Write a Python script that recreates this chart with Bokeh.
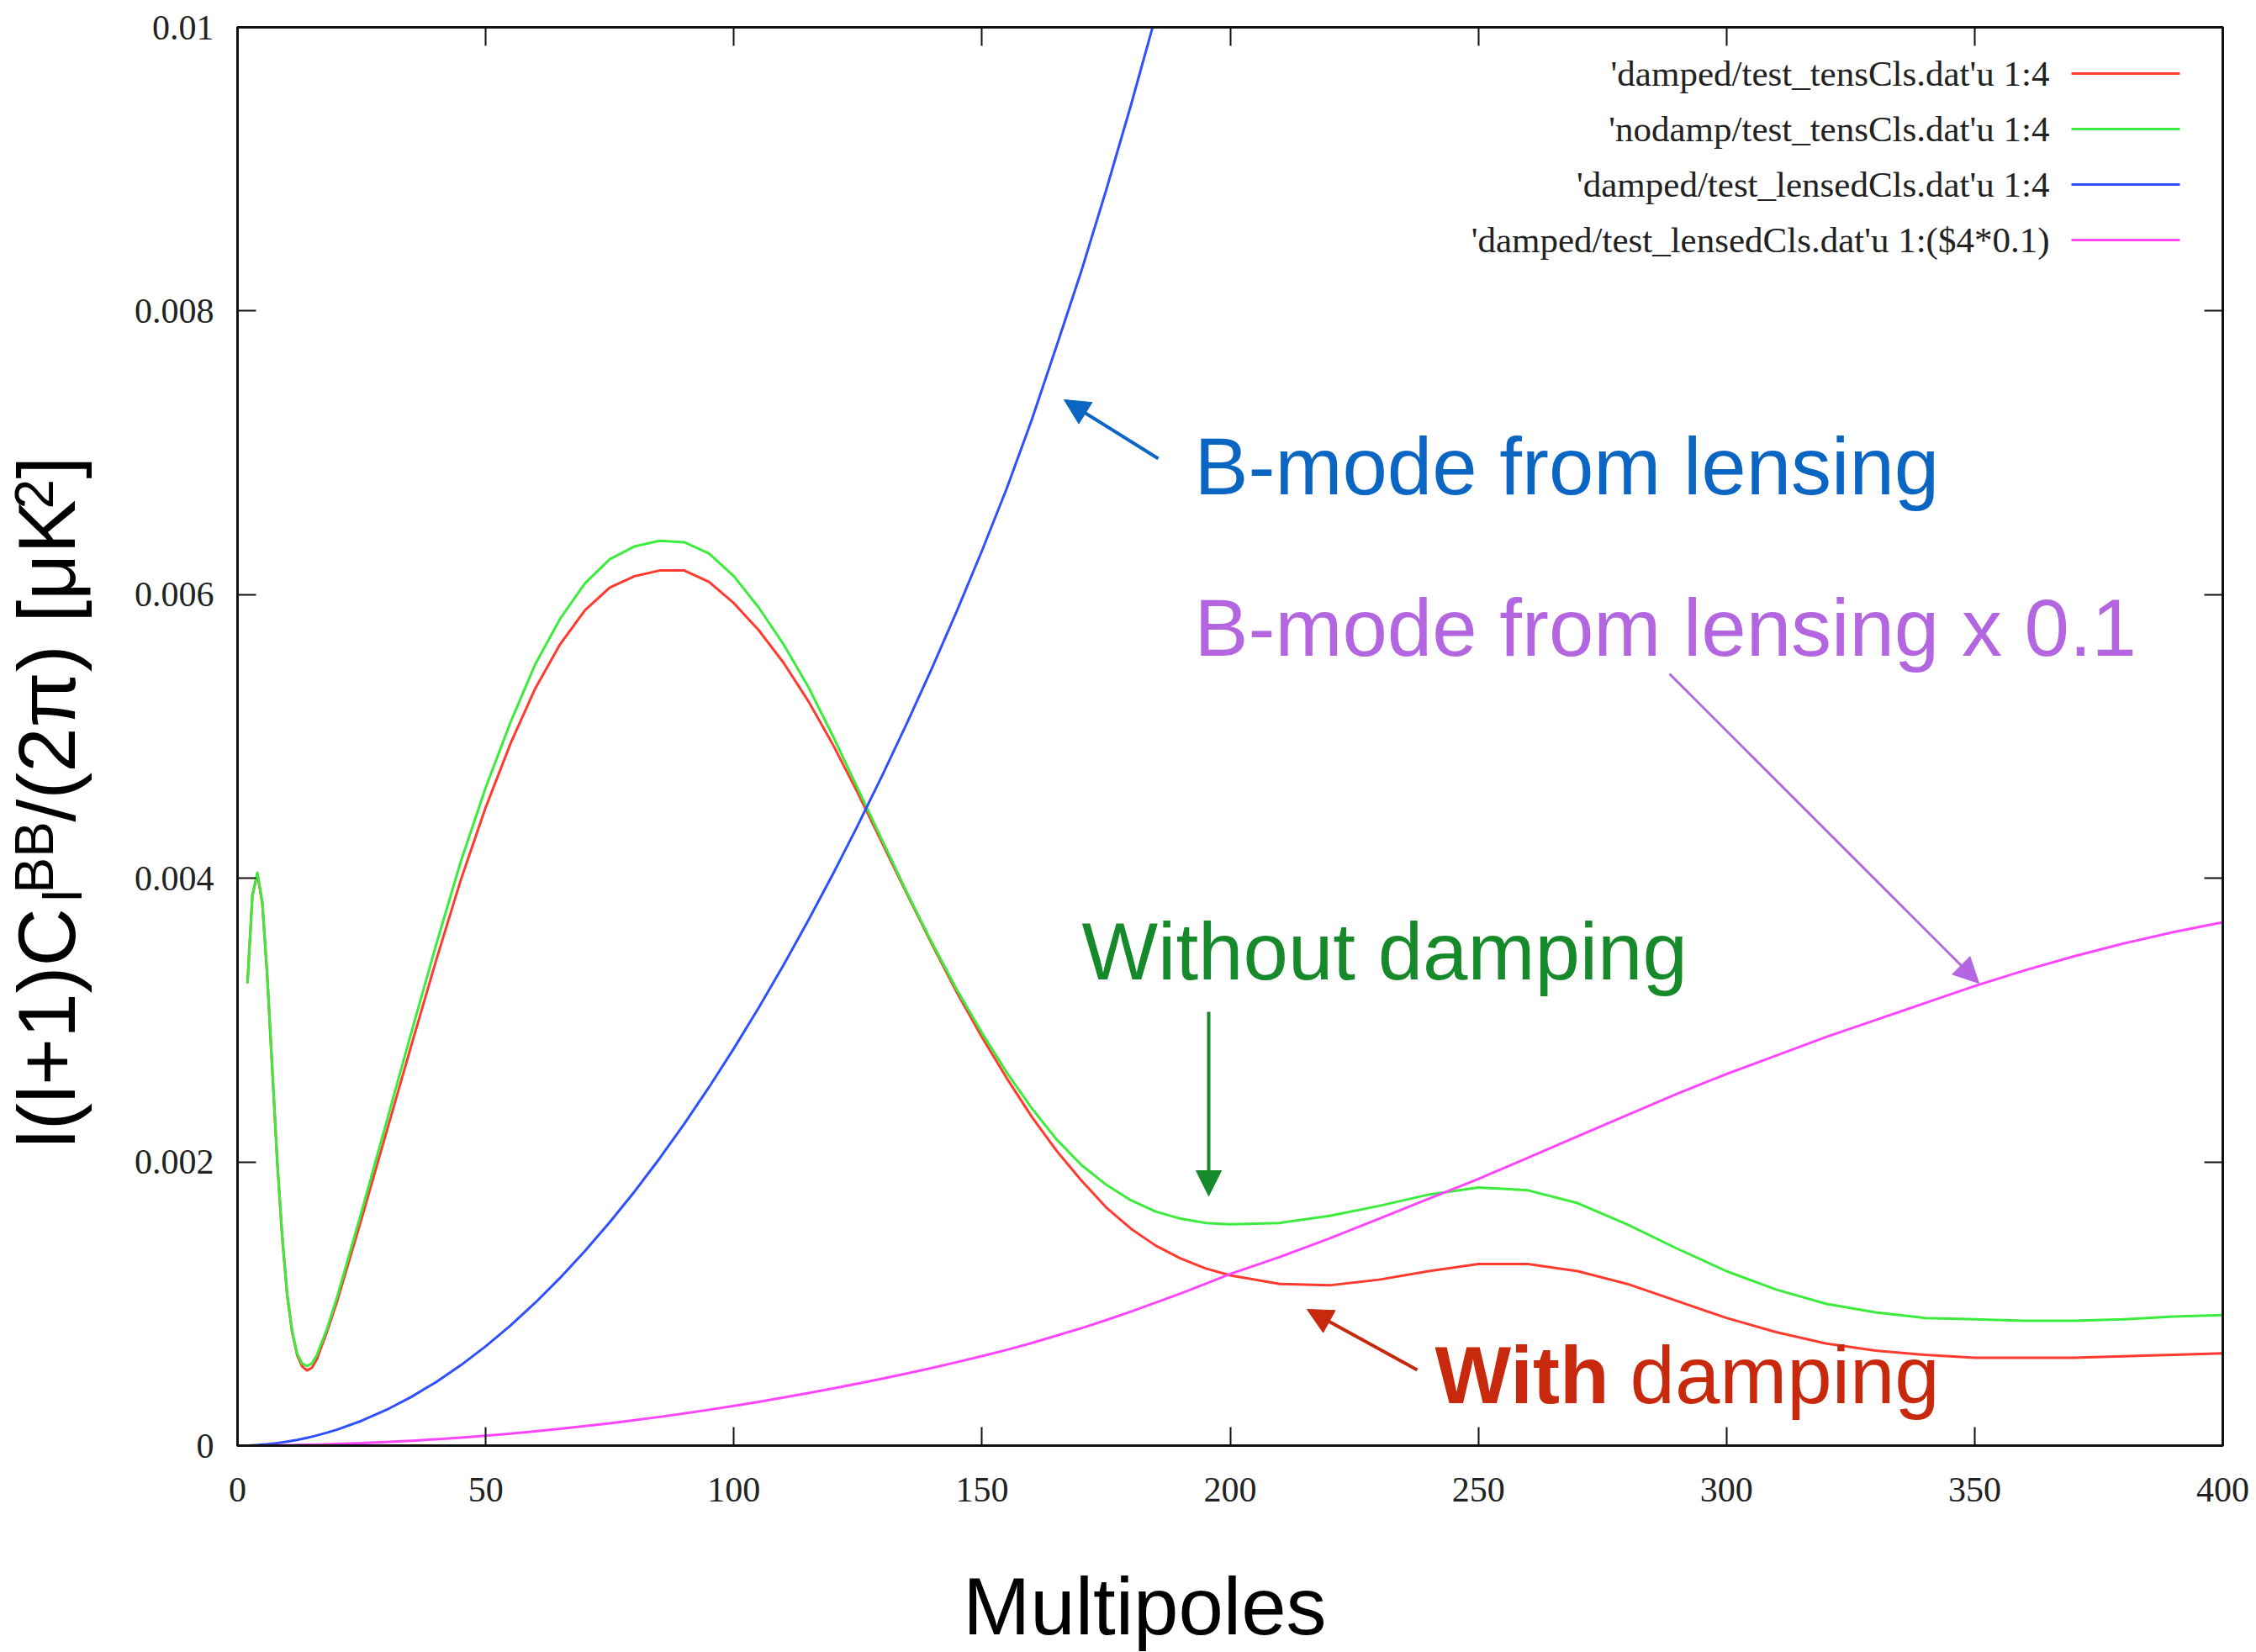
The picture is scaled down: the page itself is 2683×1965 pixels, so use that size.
import math

from bokeh.embed import file_html
from bokeh.layouts import column, row
from bokeh.models import (Arrow, FixedTicker, Label, LinearAxis, NormalHead,
                          NumeralTickFormatter, Range1d)
from bokeh.plotting import figure
from bokeh.resources import INLINE

# ---------------------------------------------------------------- data
ell = [2, 3, 4, 5, 6, 7, 8, 9, 10, 11, 12, 13, 14, 15, 16, 18, 20,
       25, 30, 35, 40, 45, 50, 55, 60, 65, 70, 75, 80, 85, 90, 95, 100,
       105, 110, 115, 120, 125, 130, 135, 140, 145, 150, 155, 160, 165,
       170, 175, 180, 185, 190, 195, 200,
       210, 220, 230, 240, 250, 260, 270, 280, 290, 300,
       310, 320, 330, 340, 350, 360, 370, 380, 390, 400]

# tensor BB, damped
bb_tens_damped = [
    0.00326, 0.00388, 0.00403, 0.00382, 0.00330, 0.00265, 0.00200, 0.00147,
    0.00106, 0.00080, 0.00064, 0.00056, 0.00053, 0.00055, 0.00061, 0.00080,
    0.00101,
    0.00160, 0.00221, 0.00282, 0.00342, 0.00399, 0.00450, 0.00495, 0.00534,
    0.00565, 0.00589, 0.00605, 0.00613, 0.00617, 0.00617, 0.00609, 0.00594,
    0.00575, 0.00552, 0.00525, 0.00494, 0.00460, 0.00424, 0.00388, 0.00353,
    0.00319, 0.00288, 0.00259, 0.00232, 0.00208, 0.00187, 0.00168, 0.00153,
    0.00141, 0.00132, 0.00125, 0.00120,
    0.00114, 0.00113, 0.00117, 0.00123, 0.00128, 0.00128, 0.00123, 0.00114,
    0.00102, 0.00090,
    0.00080, 0.00072, 0.00067, 0.00064, 0.00062, 0.00062, 0.00062, 0.00063,
    0.00064, 0.00065]

# tensor BB, no damping
bb_tens_nodamp = [
    0.00326, 0.00388, 0.00404, 0.00383, 0.00331, 0.00266, 0.00201, 0.00148,
    0.00107, 0.00081, 0.00065, 0.00058, 0.00056, 0.00058, 0.00064, 0.00082,
    0.00104,
    0.00165, 0.00228, 0.00291, 0.00353, 0.00412, 0.00464, 0.00510, 0.00551,
    0.00583, 0.00608, 0.00625, 0.00634, 0.00638, 0.00637, 0.00629, 0.00613,
    0.00591, 0.00565, 0.00535, 0.00500, 0.00463, 0.00426, 0.00389, 0.00354,
    0.00321, 0.00291, 0.00263, 0.00238, 0.00216, 0.00198, 0.00184, 0.00173,
    0.00165, 0.00160, 0.00157, 0.00156,
    0.00157, 0.00162, 0.00169, 0.00177, 0.00182, 0.00180, 0.00171, 0.00156,
    0.00139, 0.00123,
    0.00110, 0.00100, 0.00094, 0.00090, 0.00089, 0.00088, 0.00088, 0.00089,
    0.00091, 0.00092]

# lensed BB, damped
bb_lensed = [
    0.000000, 0.000002, 0.000004, 0.000007, 0.000010, 0.000014, 0.000018,
    0.000023, 0.000028, 0.000034, 0.000040, 0.000047, 0.000055, 0.000063,
    0.000072, 0.000091, 0.000112,
    0.000175, 0.000252, 0.000343, 0.000448, 0.000567, 0.000700, 0.000847,
    0.001008, 0.001183, 0.001372, 0.001575, 0.001792, 0.002023, 0.002268,
    0.002527, 0.002800, 0.003087, 0.003388, 0.003703, 0.004032, 0.004375,
    0.004732, 0.005103, 0.005488, 0.005890, 0.006310, 0.006750, 0.007230,
    0.007750, 0.008280, 0.008850, 0.009450, 0.010080, 0.010720, 0.011400,
    0.012100,
    0.013300, 0.014600, 0.016000, 0.017400, 0.018800, 0.020300, 0.021800,
    0.023300, 0.024800, 0.026200,
    0.027500, 0.028800, 0.030000, 0.031200, 0.032400, 0.033500, 0.034500,
    0.035400, 0.036200, 0.036900]

lens_factor = 0.1
bb_lensed_scaled = [v * lens_factor for v in bb_lensed]

x_ticks = [0, 50, 100, 150, 200, 250, 300, 350, 400]
y_ticks = [0, 0.002, 0.004, 0.006, 0.008, 0.01]

series_values = [bb_tens_damped, bb_tens_nodamp, bb_lensed, bb_lensed_scaled]
series_colors = ["#ff3a2e", "#3cec3c", "#2f50ff", "#ff46ff"]
legend_labels = [
    "'damped/test_tensCls.dat'u 1:4",
    "'nodamp/test_tensCls.dat'u 1:4",
    "'damped/test_lensedCls.dat'u 1:4",
    "'damped/test_lensedCls.dat'u 1:($4*0.1)",
]

# ---------------------------------------------------------------- layout
W, H = 2683, 1965
YW = 130                                  # strip for the vertical title
XH = 125                                  # strip for the horizontal title
FL, FR, FT, FB = 282, 2643, 32, 1719      # plot frame edges on the page
X0, X1 = 0, 400
Y0, Y1 = 0.0, 0.01

SERIF = "Liberation Serif"
SANS = "Liberation Sans"
MID = 0.3465   # baseline -> middle of the em box, Liberation Sans


def at(px, py):
    """Page pixel position -> data coordinates of the plot frame."""
    x = X0 + (px - FL) / (FR - FL) * (X1 - X0)
    y = Y0 + (FB - py) / (FB - FT) * (Y1 - Y0)
    return x, y


p = figure(width=W - YW, height=H - XH, output_backend="svg",
           toolbar_location=None,
           x_range=Range1d(X0, X1), y_range=Range1d(Y0, Y1),
           min_border_left=FL - YW, min_border_right=W - FR,
           min_border_top=FT, min_border_bottom=H - XH - FB,
           background_fill_color="white", border_fill_color="white")
p.grid.visible = False
p.outline_line_color = "#111111"
p.outline_line_width = 3

bottom_axis = p.below[0]
left_axis = p.left[0]
top_axis = LinearAxis()
right_axis = LinearAxis()
p.add_layout(top_axis, "above")
p.add_layout(right_axis, "right")

for ax in (bottom_axis, top_axis):
    ax.ticker = FixedTicker(ticks=x_ticks)
    ax.formatter = NumeralTickFormatter(format="0")
for ax in (left_axis, right_axis):
    ax.ticker = FixedTicker(ticks=y_ticks)
    ax.formatter = NumeralTickFormatter(format="0.[000]")

for ax in (bottom_axis, left_axis, top_axis, right_axis):
    ax.axis_line_color = "#111111"
    ax.axis_line_width = 3
    ax.major_tick_in = 22
    ax.major_tick_out = 0
    ax.major_tick_line_color = "#111111"
    ax.major_tick_line_width = 2
    ax.minor_tick_line_color = None
    ax.major_label_text_font = SERIF
    ax.major_label_text_font_size = "42px"
    ax.major_label_text_color = "#222222"

bottom_axis.major_label_standoff = 38
left_axis.major_label_standoff = 28
for ax in (top_axis, right_axis):
    ax.major_label_standoff = 0
    ax.major_label_overrides = {t: "" for t in ax.ticker.ticks}

# ---------------------------------------------------------------- curves
for vals, color in zip(series_values, series_colors):
    p.line(ell, vals, line_color=color, line_width=3, line_join="round")

# ---------------------------------------------------------------- key
key_text_right = 2437
key_line = (2463, 2592)
key_rows = [87, 153, 219, 285]
for label, color, row_y in zip(legend_labels, series_colors, key_rows):
    tx, ty = at(key_text_right, row_y)
    p.add_layout(Label(x=tx, y=ty, text=label, text_align="right",
                       text_baseline="middle", text_font=SERIF,
                       text_font_size="43px", text_color="#222222"))
    xa, ya = at(key_line[0], row_y)
    xb, _ = at(key_line[1], row_y)
    p.add_layout(Arrow(end=None, x_start=xa, y_start=ya, x_end=xb, y_end=ya,
                       line_color=color, line_width=3))

# ---------------------------------------------------------------- notes
NOTE_SIZE = 96


def note(text, px, baseline, color, style="normal"):
    x, y = at(px, baseline - MID * NOTE_SIZE)
    p.add_layout(Label(x=x, y=y, text=text, text_font=SANS,
                       text_font_size=f"{NOTE_SIZE}px", text_font_style=style,
                       text_color=color, text_baseline="middle"))


def pointer(x0, y0, x1, y1, color, width=4):
    xs, ys = at(x0, y0)
    xe, ye = at(x1, y1)
    p.add_layout(Arrow(end=NormalHead(size=30, fill_color=color,
                                      line_color=color, line_width=1),
                       x_start=xs, y_start=ys, x_end=xe, y_end=ye,
                       line_color=color, line_width=width))


BLUE_TXT = "#0a66c2"
PURPLE_TXT = "#b466e0"
GREEN_TXT = "#168a2a"
RED_TXT = "#c8280c"

note("B-mode from lensing", 1420, 587, BLUE_TXT)
pointer(1377, 545, 1265, 475, BLUE_TXT)

note("B-mode from lensing x 0.1", 1420, 779, PURPLE_TXT)
pointer(1985, 801, 2353, 1169, PURPLE_TXT, width=3)

note("Without damping", 1286, 1164, GREEN_TXT)
pointer(1437, 1203, 1437, 1422, GREEN_TXT)

note("With", 1706, 1668, RED_TXT, style="bold")
note("damping", 1938, 1668, RED_TXT)
pointer(1685, 1629, 1554, 1557, RED_TXT)

# ---------------------------------------------------------------- x title strip
xt = figure(width=W - YW, height=XH, output_backend="svg",
            toolbar_location=None, x_axis_location=None, y_axis_location=None,
            x_range=Range1d(YW, W), y_range=Range1d(H, H - XH),
            min_border=0, min_border_left=0, min_border_right=0,
            min_border_top=0, min_border_bottom=0, outline_line_color=None,
            background_fill_color="white", border_fill_color="white")
xt.grid.visible = False
xt.add_layout(Label(x=1063, y=1943 - MID * 96, text="Multipoles",
                    text_align="left", text_baseline="middle",
                    text_font=SANS, text_font_size="96px",
                    text_color="black"))

# ---------------------------------------------------------------- y title strip
yt = figure(width=YW, height=H, output_backend="svg",
            toolbar_location=None, x_axis_location=None, y_axis_location=None,
            x_range=Range1d(0, YW), y_range=Range1d(H, 0),
            min_border=0, min_border_left=0, min_border_right=0,
            min_border_top=0, min_border_bottom=0, outline_line_color=None,
            background_fill_color="white", border_fill_color="white")
yt.grid.visible = False

# l(l+1) C_l^BB / (2 pi) [uK^2], set piece by piece, reading upward
ytitle_parts = [
    # text, start along the column, baseline column, font size (px)
    ("l(l+1)C", 1365, 88, 96),
    ("l", 1072, 97, 64),
    ("BB", 1062, 63, 64),
    ("/(2\u03c0) [\u03bcK", 977, 88, 96),
    ("2", 605, 62, 64),
    ("]", 569, 88, 96),
]
for text, py, px, size in ytitle_parts:
    yt.add_layout(Label(x=px - MID * size, y=py, text=text,
                        angle=math.pi / 2, text_align="left",
                        text_baseline="middle", text_font=SANS,
                        text_font_size=f"{size}px", text_color="black"))

page = row(yt, column(p, xt, spacing=0), spacing=0)
open("out.html", "w").write(file_html(page, INLINE))
